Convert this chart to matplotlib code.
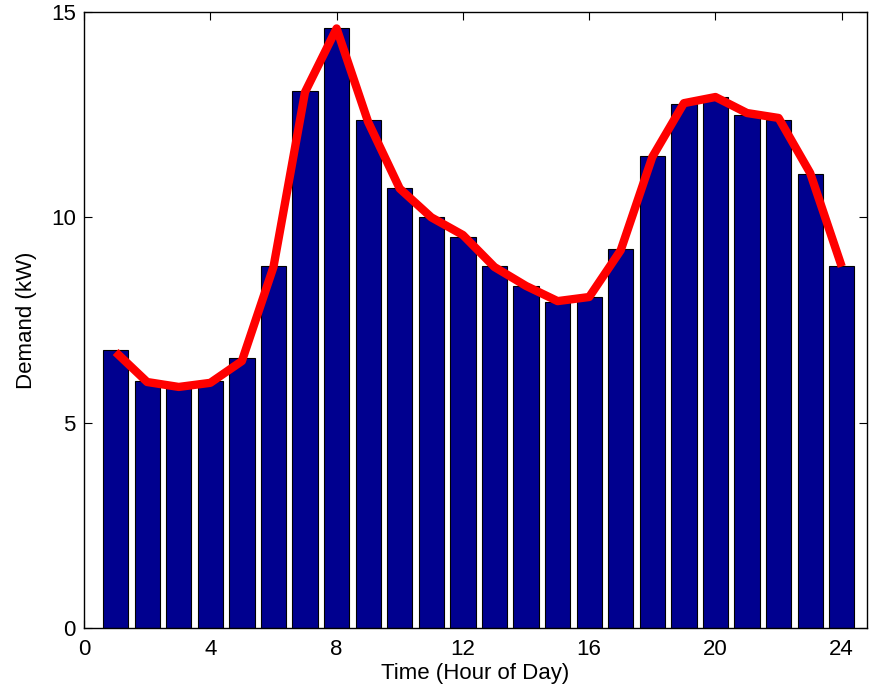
#!/usr/bin/env python3
"""Hourly demand profile: bars for each hour with the demand curve drawn on top."""

import matplotlib
matplotlib.use("Agg")
import matplotlib.pyplot as plt

# hour of day
hours = list(range(1, 25))

# bar heights (kW)
demand_bars = [6.77, 6.02, 5.92, 6.02, 6.57, 8.81, 13.07, 14.60,
               12.37, 10.71, 10.00, 9.52, 8.81, 8.33, 7.94, 8.06,
               9.23, 11.49, 12.76, 12.93, 12.49, 12.37, 11.05, 8.81]

# red curve (kW)
demand_curve = [6.72, 5.99, 5.87, 5.97, 6.50, 8.79, 13.05, 14.60,
                12.32, 10.70, 10.00, 9.57, 8.79, 8.33, 7.96, 8.06,
                9.20, 11.47, 12.78, 12.93, 12.54, 12.42, 11.08, 8.80]

x_ticks = [0, 4, 8, 12, 16, 20, 24]
y_ticks = [0, 5, 10, 15]

plt.rcParams['font.family'] = ['Liberation Sans', 'DejaVu Sans']

fig = plt.figure(figsize=(8.69, 6.94), dpi=100)
ax = fig.add_axes([0.0967, 0.0951, 0.9010, 0.8876])

ax.bar(hours, demand_bars, width=0.8, color='#00008F', edgecolor='black',
       linewidth=0.8, zorder=2)
ax.plot(hours, demand_curve, color='#FF0000', linewidth=6,
        solid_joinstyle='round', solid_capstyle='butt', zorder=3)

ax.set_xlim(0, 24.8)
ax.set_ylim(0, 15)
ax.set_xticks(x_ticks)
ax.set_yticks(y_ticks)
ax.tick_params(direction='in', length=6, width=0.8, labelsize=16,
               top=True, right=True)
ax.tick_params(axis='x', pad=8)
ax.tick_params(axis='y', pad=6)

for spine in ax.spines.values():
    spine.set_linewidth(1.0)

ax.set_xlabel('Time (Hour of Day)', fontsize=16, labelpad=2)
ax.set_ylabel('Demand (kW)', fontsize=16, labelpad=10)

fig.savefig('out.png', dpi=100)
